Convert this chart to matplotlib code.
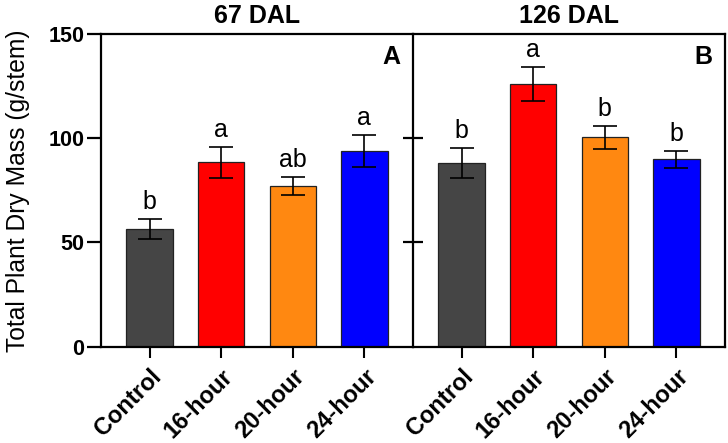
import matplotlib
matplotlib.use('Agg')
import matplotlib.pyplot as plt
import numpy as np

plt.rcParams['font.family'] = ['Liberation Sans', 'DejaVu Sans']

treatments = ['Control', '16-hour', '20-hour', '24-hour']
colors = ['#454545', '#ff0000', '#ff8811', '#0000ff']

# 67 DAL
mass_67 = [56.5, 88.5, 77.3, 94.0]
err_67 = [5.0, 7.5, 4.3, 7.6]
sig_67 = ['b', 'a', 'ab', 'a']

# 126 DAL
mass_126 = [88.3, 126.1, 100.5, 90.0]
err_126 = [7.2, 8.2, 5.5, 4.1]
sig_126 = ['b', 'a', 'b', 'b']

titles = ['67 DAL', '126 DAL']
panels = ['A', 'B']

fig = plt.figure(figsize=(7.28, 4.43), dpi=100)
ax1 = fig.add_axes([0.1387, 0.2174, 0.4286, 0.7057])
ax2 = fig.add_axes([0.5673, 0.2174, 0.4286, 0.7057])

x = np.arange(len(treatments))
data = [(mass_67, err_67, sig_67), (mass_126, err_126, sig_126)]

for i, ax in enumerate([ax1, ax2]):
  vals, errs, sig = data[i]
  ax.bar(x, vals, width=0.65, color=colors, edgecolor='#222222', linewidth=0.9, zorder=2)
  ax.errorbar(x, vals, yerr=errs, fmt='none', ecolor='black', elinewidth=1.2,
              capsize=8.6, capthick=1.2, zorder=3)
  for xi, v, e, s in zip(x, vals, errs, sig):
    ax.text(xi, v + e + 4.8, s, ha='center', va='baseline', fontsize=18)
  ax.set_xlim(-0.68, 3.68)
  ax.set_ylim(0, 150)
  ax.set_xticks(x)
  ax.set_xticklabels(treatments, rotation=45, ha='right', rotation_mode='anchor',
                     fontsize=17, fontweight='bold')
  ax.tick_params(axis='x', length=8, width=1.5, pad=5)
  for sp in ax.spines.values():
    sp.set_linewidth(1.6)
  ax.text(0.5, 1.02, titles[i], transform=ax.transAxes, ha='center', va='bottom',
          fontsize=18, fontweight='bold')
  ax.text(0.93, 0.927, panels[i], transform=ax.transAxes, ha='center', va='center',
          fontsize=18, fontweight='bold')

ax1.spines['right'].set_visible(False)
ax1.set_yticks([0, 50, 100, 150])
ax1.set_yticklabels(['0', '50', '100', '150'], fontsize=15.5, fontweight='bold')
ax1.tick_params(axis='y', length=10, width=1.6, pad=2)
ax1.set_ylabel('Total Plant Dry Mass (g/stem)', fontsize=17.7, labelpad=13)

ax2.set_yticks([50, 100])
ax2.tick_params(axis='y', direction='inout', length=14, width=1.6, labelleft=False)

fig.savefig('out.png', dpi=100)
plt.close()
